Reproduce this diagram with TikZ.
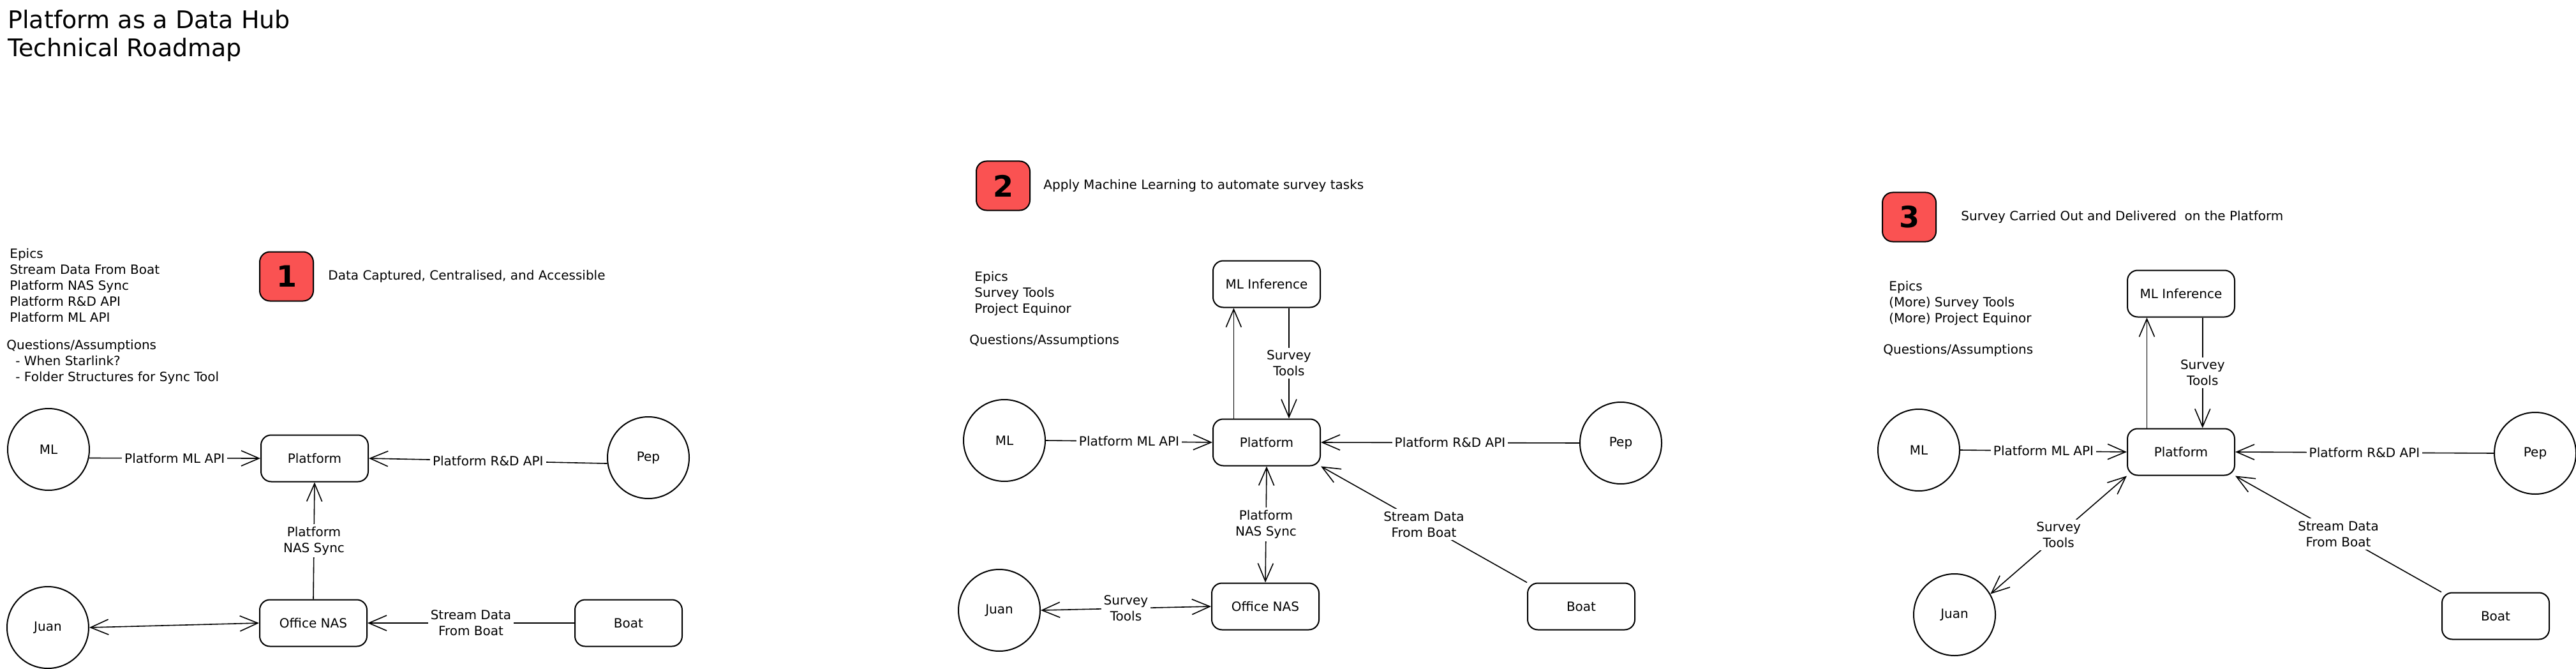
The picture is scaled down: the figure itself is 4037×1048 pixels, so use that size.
\documentclass[tikz,border=0pt]{standalone}
\usepackage{fontspec}
\setmainfont{DejaVu Sans}
\usetikzlibrary{positioning,arrows.meta}
\definecolor{badgered}{HTML}{FA5252}
\begin{document}
\begin{tikzpicture}[x=0.5pt,y=-0.5pt]

\def\bw{84pt}
\def\bh{36.5pt}
\def\cd{64pt}
\tikzstyle{block} = [
	draw, rectangle, rounded corners=8pt, line width=1pt,
	minimum width=\bw, minimum height=\bh, inner sep=0pt,
	font=\fontsize{10}{12.5}\selectfont ];
\tikzstyle{actor} = [draw, circle, line width=1pt, minimum size=\cd,
	inner sep=0pt, font=\fontsize{10}{12.5}\selectfont];
\tikzstyle{badge} = [draw, fill=badgered, rounded corners=8pt, line width=1pt,
	minimum width=42pt, minimum height=38.5pt,
	font=\fontsize{23}{23}\selectfont\bfseries];
\tikzstyle{notes} = [inner sep=0pt, align=left, font=\fontsize{10}{12.5}\selectfont];
\tikzstyle{lbl} = [fill=white, inner sep=2pt, align=center,
	font=\fontsize{10}{12.5}\selectfont];
\tikzstyle{arr} = [-{Straight Barb[length=14pt,width=12pt]}, line width=0.8pt];
\tikzstyle{dbl} = [{Straight Barb[length=14pt,width=12pt]}-{Straight Barb[length=14pt,width=12pt]}, line width=0.8pt];
\useasboundingbox (0,0) rectangle (4037,1048);

\node[notes, anchor=north west, font=\fontsize{19}{22}\selectfont] (title) at (12,15)
	{Platform as a Data Hub\\Technical Roadmap};

% stage 1
\node[badge] (badge1) at (449,433) {1};
\node[notes, right=11pt of badge1] (goal1) {Data Captured, Centralised, and Accessible};
\node[notes, anchor=north west] (epics1) at (15,389)
	{Epics\\Stream Data From Boat\\Platform NAS Sync\\Platform R\&D API\\Platform ML API};
\node[notes, anchor=north west] (quest1) at (10,532)
	{Questions/Assumptions\\\hspace*{7pt}- When Starlink?\\\hspace*{7pt}- Folder Structures for Sync Tool};

\node[actor] (ml1) at (76,704) {ML};
\node[block] (plat1) at (493,718) {Platform};
\node[actor] (pep1) at (1016,717) {Pep};
\node[actor] (juan1) at (75,983) {Juan};
\node[block] (nas1) at (491,976) {Office NAS};
\node[block] (boat1) at (985,976) {Boat};

\draw[arr] (ml1.-12) -- node[lbl] {Platform ML API} (plat1.west);
\draw[arr] (pep1.188) -- node[lbl] {Platform R\&D API} (plat1.east);
\draw[arr] (nas1.north) -- node[lbl] {Platform\\NAS Sync} (plat1.south);
\draw[dbl] (juan1.east) -- (nas1.west);
\draw[arr] (boat1.west) -- node[lbl] {Stream Data\\From Boat} (nas1.east);

% stage 2
\node[badge] (badge2) at (1572,291) {2};
\node[notes, right=10pt of badge2] (goal2) {Apply Machine Learning to automate survey tasks};
\node[notes, anchor=north west] (epics2) at (1527,425)
	{Epics\\Survey Tools\\Project Equinor};
\node[notes, anchor=north west] (quest2) at (1519,524) {Questions/Assumptions};

\node[block] (inf2) at (1985,445) {ML Inference};
\node[block] (plat2) at (1985,693) {Platform};
\node[block] (nas2) at (1983,950) {Office NAS};
\node[block] (boat2) at (2478,950) {Boat};
\node[actor] (ml2) at (1574,690) {ML};
\node[actor] (pep2) at (2540,694) {Pep};
\node[actor] (juan2) at (1566,956) {Juan};

\draw[arr] (plat2.144) -- (inf2.216);
\draw[arr] (inf2.-47) -- node[lbl] {Survey\\Tools} (plat2.47);
\draw[arr] (ml2.east) -- node[lbl] {Platform ML API} (plat2.west);
\draw[arr] (pep2.west) -- node[lbl] {Platform R\&D API} (plat2.east);
\draw[dbl] (plat2.south) -- node[lbl] {Platform\\NAS Sync} (nas2.north);
\draw[dbl] (juan2.east) -- node[lbl] {Survey\\Tools} (nas2.west);
\draw[arr] (boat2.north west) -- node[lbl] {Stream Data\\From Boat} (plat2.south east);

% stage 3
\node[badge] (badge3) at (2992,340) {3};
\node[notes, right=19pt of badge3] (goal3) {Survey Carried Out and Delivered\ \ on the Platform};
\node[notes, anchor=north west] (epics3) at (2960,440)
	{Epics\\(More) Survey Tools\\(More) Project Equinor};
\node[notes, anchor=north west] (quest3) at (2951,539) {Questions/Assumptions};

\node[block] (inf3) at (3418,460) {ML Inference};
\node[block] (plat3) at (3418,708) {Platform};
\node[actor] (ml3) at (3007,705) {ML};
\node[actor] (pep3) at (3973,710) {Pep};
\node[actor] (juan3) at (3063,963) {Juan};
\node[block] (boat3) at (3911,965) {Boat};

\draw[arr] (plat3.145) -- (inf3.215);
\draw[arr] (inf3.-48) -- node[lbl] {Survey\\Tools} (plat3.48);
\draw[arr] (ml3.east) -- node[lbl] {Platform ML API} (plat3.west);
\draw[arr] (pep3.west) -- node[lbl] {Platform R\&D API} (plat3.east);
\draw[dbl] (plat3.south west) -- node[lbl] {Survey\\Tools} (juan3.30);
\draw[arr] (boat3.north west) -- node[lbl] {Stream Data\\From Boat} (plat3.south east);

\end{tikzpicture}
\end{document}
